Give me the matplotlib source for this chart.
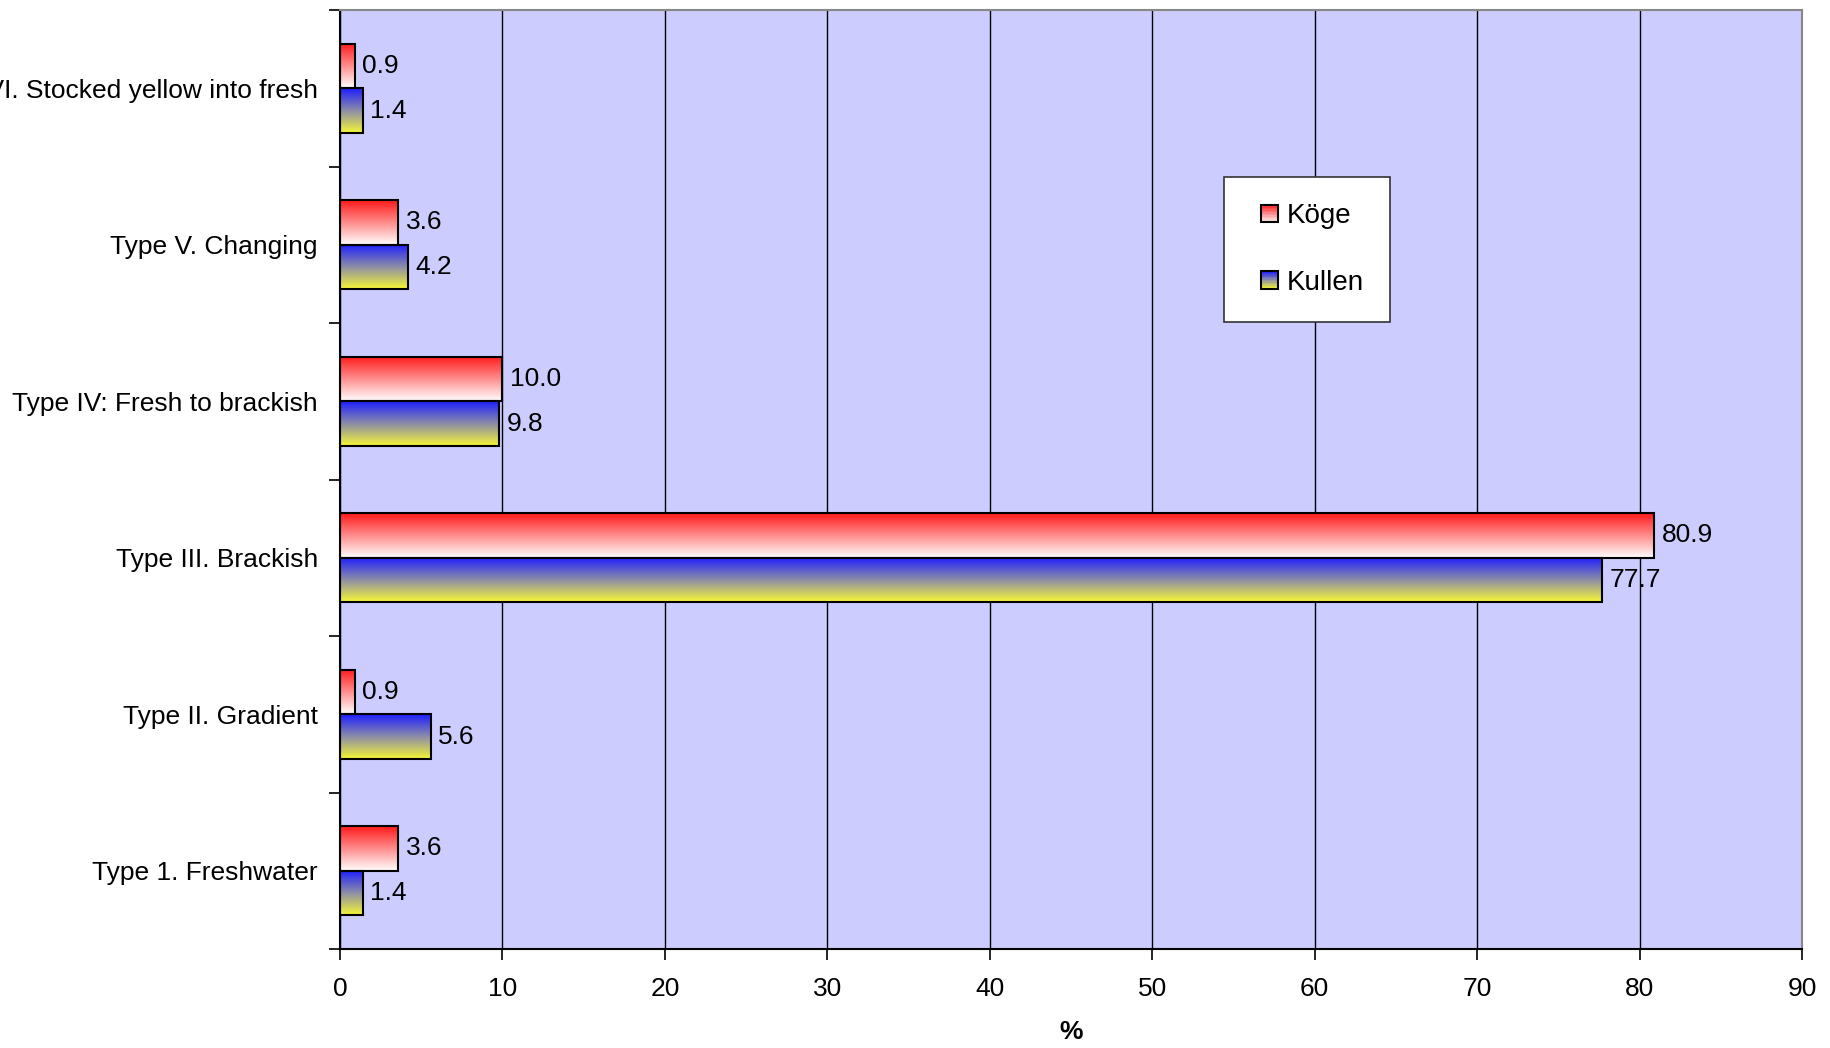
import numpy as np
import matplotlib
matplotlib.use("Agg")
import matplotlib.pyplot as plt
from matplotlib.patches import Rectangle
from matplotlib.colors import LinearSegmentedColormap
from matplotlib.legend_handler import HandlerBase

plt.rcParams['font.family'] = ['Liberation Sans', 'DejaVu Sans']

categories = ["Type 1. Freshwater", "Type II. Gradient", "Type III. Brackish",
              "Type IV: Fresh to brackish", "Type V. Changing",
              "Type VI. Stocked yellow into fresh"]
koge = [3.6, 0.9, 80.9, 10.0, 3.6, 0.9]
kullen = [1.4, 5.6, 77.7, 9.8, 4.2, 1.4]
series_names = ["Köge", "Kullen"]
xticks = [0, 10, 20, 30, 40, 50, 60, 70, 80, 90]

cmap_koge = LinearSegmentedColormap.from_list("koge", ["#ffffff", "#ff1a1a"])
cmap_kullen = LinearSegmentedColormap.from_list("kullen", ["#f7f735", "#8c8ca8", "#1e1eff"])

FS = 19
W, H = 1831, 1048
fig = plt.figure(figsize=(W / 100, H / 100), dpi=100)
ax = fig.add_axes([340 / W, 99 / H, (1802 - 340) / W, (1038 - 99) / H])
ax.set_facecolor("#ccccff")

bh = 0.285
grad = np.linspace(0, 1, 256).reshape(-1, 1)
y = np.arange(len(categories))


def grad_bar(x0, w, yc, h, cmap):
    ax.imshow(grad, cmap=cmap, extent=[x0, x0 + w, yc - h / 2, yc + h / 2],
              origin="lower", aspect="auto", zorder=2, interpolation="bilinear")
    ax.add_patch(Rectangle((x0, yc - h / 2), w, h, fill=False, edgecolor="black",
                           linewidth=1.5, zorder=3))


for i in range(len(categories)):
    yk = y[i] + bh / 2
    yl = y[i] - bh / 2
    grad_bar(0, koge[i], yk, bh, cmap_koge)
    grad_bar(0, kullen[i], yl, bh, cmap_kullen)
    ax.text(koge[i] + 0.45, yk, f"{koge[i]:.1f}", va="center", ha="left", fontsize=FS, zorder=4)
    ax.text(kullen[i] + 0.45, yl, f"{kullen[i]:.1f}", va="center", ha="left", fontsize=FS, zorder=4)

ax.set_xlim(0, 90)
ax.set_ylim(-0.5, len(categories) - 0.5)
ax.set_xticks(xticks)
ax.set_xticklabels([str(t) for t in xticks], fontsize=FS)
ax.set_yticks(y)
ax.set_yticklabels(categories, fontsize=FS)
ax.tick_params(axis="y", length=0, pad=16)
ax.set_yticks(np.arange(-0.5, len(categories), 1.0), minor=True)
ax.tick_params(axis="y", which="minor", length=8, width=1.2, direction="out")
ax.tick_params(axis="x", length=8, width=1.2, direction="out", pad=12)
ax.xaxis.grid(True, color="black", linewidth=1.0, zorder=1)
ax.set_axisbelow(True)
for s in ["top", "right"]:
    ax.spines[s].set_color("#888888")
    ax.spines[s].set_linewidth(1.5)
for s in ["left", "bottom"]:
    ax.spines[s].set_color("black")
    ax.spines[s].set_linewidth(1.5)

ax.set_xlabel("%", fontsize=FS, fontweight="bold", labelpad=14)


class GradHandler(HandlerBase):
    def __init__(self, cmap):
        super().__init__()
        self.cmap = cmap

    def create_artists(self, legend, orig_handle, xdescent, ydescent, width, height, fontsize, trans):
        s = height * 0.9
        x0 = -xdescent + width - s
        y0 = -ydescent + (height - s) / 2
        arts = []
        n = 12
        for k in range(n):
            c = self.cmap(1 - (k + 0.5) / n)
            arts.append(Rectangle((x0, y0 + s - (k + 1) * s / n), s, s / n, facecolor=c,
                                  edgecolor="none", transform=trans))
        arts.append(Rectangle((x0, y0), s, s, fill=False, edgecolor="black", linewidth=1.5,
                              transform=trans))
        return arts


h1 = Rectangle((0, 0), 1, 1)
h2 = Rectangle((0, 1), 1, 1)
ax_h = 1038 - 99
leg = ax.legend([h1, h2], series_names,
                handler_map={h1: GradHandler(cmap_koge), h2: GradHandler(cmap_kullen)},
                loc="upper left",
                bbox_to_anchor=((1224 - 340) / (1802 - 340), (1048 - 177 - 99) / ax_h),
                fontsize=FS + 1, frameon=True, fancybox=False, edgecolor="#333333",
                framealpha=1, labelspacing=1.45, handlelength=1.0, handletextpad=0.3,
                borderpad=0.95, borderaxespad=0)
leg.get_frame().set_linewidth(1.2)
leg.set_zorder(5)

fig.savefig("out.png", dpi=100)
